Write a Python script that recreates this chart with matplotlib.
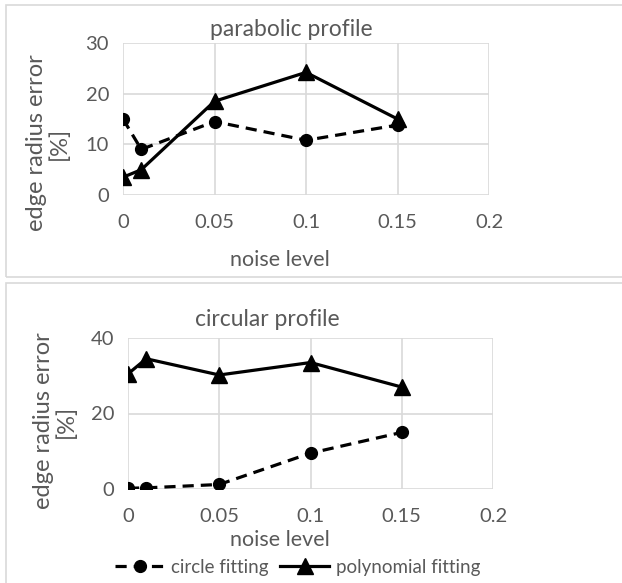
import matplotlib
matplotlib.use("Agg")
import matplotlib.pyplot as plt
from matplotlib.patches import Rectangle
from matplotlib.lines import Line2D

plt.rcParams['font.family'] = ['Lato', 'DejaVu Sans']

noise = [0, 0.01, 0.05, 0.1, 0.15]
x_ticks = [0, 0.05, 0.1, 0.15, 0.2]
x_labels = ['0', '0.05', '0.1', '0.15', '0.2']

para_circle = [15.0, 9.0, 14.5, 10.8, 13.8]
para_poly = [3.5, 5.0, 18.5, 24.2, 15.0]
circ_circle = [0.2, 0.3, 1.2, 9.5, 15.0]
circ_poly = [30.5, 34.5, 30.2, 33.5, 27.0]

W, H = 622, 583
txt = '#595959'
grid = '#d9d9d9'

fig = plt.figure(figsize=(W / 100, H / 100), dpi=100)

def box(x0, y0, x1, y1):
    # pixel coords, y from top
    return [x0 / W, 1 - y1 / H, (x1 - x0) / W, (y1 - y0) / H]

# panel frames
for (x0, y0, x1, y1) in [(6, 5, 640, 277), (6, 283, 640, 600)]:
    b = box(x0, y0, x1, y1)
    fig.patches.append(Rectangle((b[0], b[1]), b[2], b[3], transform=fig.transFigure,
                                 fill=False, edgecolor='#d9d9d9', lw=1.2))

def panel(rect, circ, poly, ymax, ystep, title, title_x, title_y, xl_y, ylab_x, ylab_y):
    ax = fig.add_axes(box(*rect))
    ax.plot(noise, circ, color='black', lw=2.3, ls=(0, (3.5, 2.2)), marker='o', ms=8.5, zorder=3)
    ax.plot(noise, poly, color='black', lw=2.3, marker='^', ms=11, zorder=3)
    ax.set_xlim(0, 0.2)
    ax.set_ylim(0, ymax)
    ax.set_xticks(x_ticks)
    ax.set_xticklabels(x_labels)
    ax.set_yticks(range(0, ymax + 1, ystep))
    ax.grid(True, color=grid, lw=1.2)
    ax.set_axisbelow(True)
    for s in ax.spines.values():
        s.set_visible(False)
    ax.tick_params(length=0, labelsize=14.5, labelcolor=txt)
    ax.tick_params(axis='x', pad=14)
    ax.tick_params(axis='y', pad=10)
    for lab in ax.get_xticklabels() + ax.get_yticklabels():
        lab.set_clip_on(False)
    fig.text(title_x / W, 1 - title_y / H, title, ha='center', va='center',
             fontsize=16.5, color=txt)
    fig.text(280 / W, 1 - xl_y / H, 'noise level', ha='center', va='center',
             fontsize=15.5, color=txt)
    fig.text(ylab_x / W, 1 - ylab_y / H, 'edge radius error\n[%]', ha='center', va='center',
             rotation=90, fontsize=17, color=txt, linespacing=1.05)
    return ax

panel((123, 43, 489, 195), para_circle, para_poly, 30, 10,
      'parabolic profile', 291, 30, 260, 48, 143)
panel((128, 338, 493, 489), circ_circle, circ_poly, 40, 20,
      'circular profile', 267, 320, 540, 55, 421)

handles = [Line2D([], [], color='black', lw=2.3, ls=(0, (3.5, 2.2)), marker='o', ms=8.5),
           Line2D([], [], color='black', lw=2.3, marker='^', ms=11)]
leg = fig.legend(handles, ['circle fitting', 'polynomial fitting'], loc='center',
                 bbox_to_anchor=(298 / W, 1 - 567 / H), ncol=2, frameon=False,
                 fontsize=13.5, handlelength=2.6, columnspacing=0.6, handletextpad=0.4)
for t in leg.get_texts():
    t.set_color(txt)

fig.savefig('out.png', dpi=100)
